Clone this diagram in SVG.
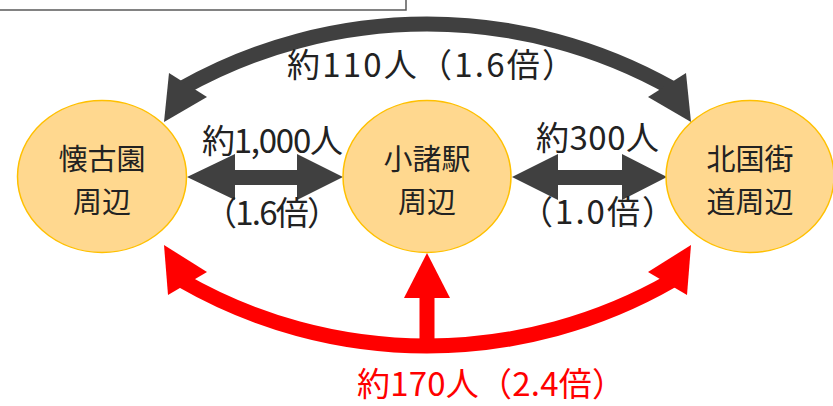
<svg xmlns="http://www.w3.org/2000/svg" width="833" height="406" viewBox="0 0 833 406">
<style>
.node ellipse{fill:#FFD88F;stroke:#FFC000;stroke-width:1.5}
.nt{font-family:"Noto Sans CJK JP","Noto Sans",sans-serif;font-size:29px;fill:#222;text-anchor:middle}
.lbl{font-family:"Noto Sans CJK JP","Noto Sans",sans-serif;font-size:33px;fill:#222}
.lbl.red{fill:#FF0000}
.dk{fill:#404040}
.rd{fill:#FF0000}
.dks{fill:none;stroke:#404040;stroke-width:15}
.rds{fill:none;stroke:#FF0000;stroke-width:15}
</style>
<rect x="-2" y="-20" width="408" height="30" fill="#fff" stroke="#595959" stroke-width="1.5"/>
<g id="connectors">
  <path class="dks" d="M182,88.3 A499,499 0 0 1 672,88.3"/>
  <polygon class="dk" points="164,122 169,73 207,97"/>
  <polygon class="dk" points="691,122 686,73 648,97"/>
  <polygon class="dk" points="187,177 235,154 235,170 297,170 297,154 343,177 297,200 297,185 235,185 235,200"/>
  <polygon class="dk" points="512,177 558,154 558,170 622,170 622,154 667,177 622,200 622,185 558,185 558,200"/>
  <path class="rds" d="M182,280.6 A491.7,491.7 0 0 0 672,280.6"/>
  <polygon class="rd" points="164,245 168,295 207,272"/>
  <polygon class="rd" points="691,245 687,295 648,272"/>
  <rect class="rd" x="419.5" y="296" width="15" height="50"/>
  <polygon class="rd" points="427,253 404,298 450,298"/>
  <text class="lbl" x="287" y="77" textLength="288" lengthAdjust="spacing">約110人（1.6倍）</text>
  <text class="lbl" x="202" y="153" textLength="141" lengthAdjust="spacing">約1,000人</text>
  <text class="lbl" x="204" y="225" textLength="136" lengthAdjust="spacing">（1.6倍）</text>
  <text class="lbl" x="536" y="150" textLength="123" lengthAdjust="spacing">約300人</text>
  <text class="lbl" x="520" y="224" textLength="155" lengthAdjust="spacing">（1.0倍）</text>
  <text class="lbl red" x="357" y="396" textLength="268" lengthAdjust="spacing">約170人（2.4倍）</text>
</g>
<g id="n1" class="node">
  <ellipse cx="102" cy="176.5" rx="84.5" ry="76"/>
  <text class="nt"><tspan x="102" y="170">懐古園</tspan><tspan x="102" y="212.5">周辺</tspan></text>
</g>
<g id="n2" class="node">
  <ellipse cx="427" cy="176.5" rx="84" ry="76"/>
  <text class="nt"><tspan x="427" y="170">小諸駅</tspan><tspan x="427" y="212.5">周辺</tspan></text>
</g>
<g id="n3" class="node">
  <ellipse cx="750" cy="176.5" rx="84" ry="76"/>
  <text class="nt"><tspan x="750" y="170">北国街</tspan><tspan x="750" y="212.5">道周辺</tspan></text>
</g>
</svg>
